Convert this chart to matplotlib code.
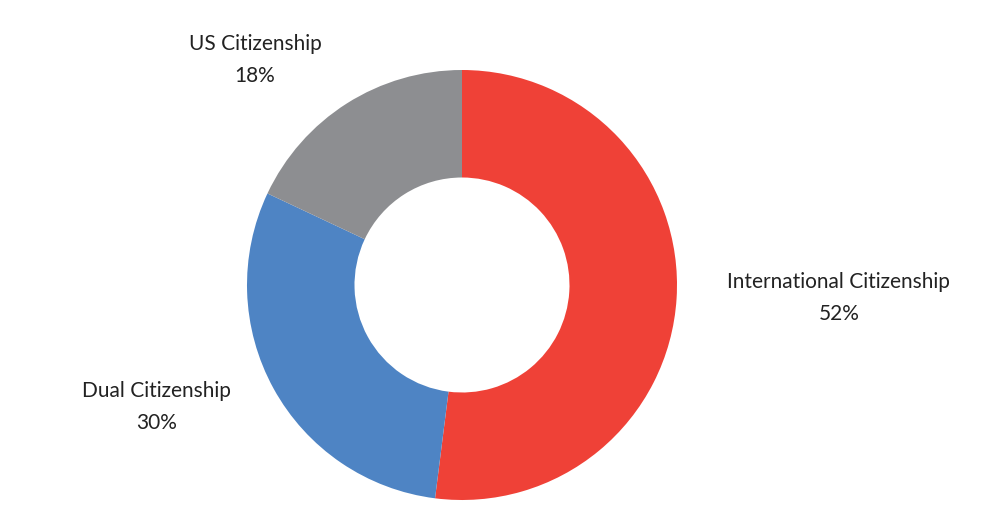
import matplotlib
matplotlib.use("Agg")
import matplotlib.pyplot as plt

# data
categories = ["International Citizenship", "Dual Citizenship", "US Citizenship"]
shares = [52, 30, 18]
colors = ["#EF4137", "#4E84C4", "#8D8E91"]

# label placement (data coords, radius = 1)
label_pos = [(1.753, -0.06), (-1.419, -0.567), (-0.963, 1.047)]

plt.rcParams["font.family"] = ["Lato", "DejaVu Sans"]

fig = plt.figure(figsize=(10, 5.24), dpi=100)
ax = fig.add_axes([0.247, 24 / 524, 0.43, 430 / 524])
ax.pie(shares, colors=colors, startangle=90, counterclock=False,
       radius=1, wedgeprops=dict(width=0.5, edgecolor="none"))
ax.set_xlim(-1, 1)
ax.set_ylim(-1, 1)
ax.set_aspect("equal")
ax.axis("off")

for cat, val, (x, y) in zip(categories, shares, label_pos):
    ax.text(x, y, f"{cat}\n{val}%", ha="center", va="center",
            fontsize=15, color="#222222", linespacing=1.75, clip_on=False)

fig.savefig("out.png", dpi=100)
